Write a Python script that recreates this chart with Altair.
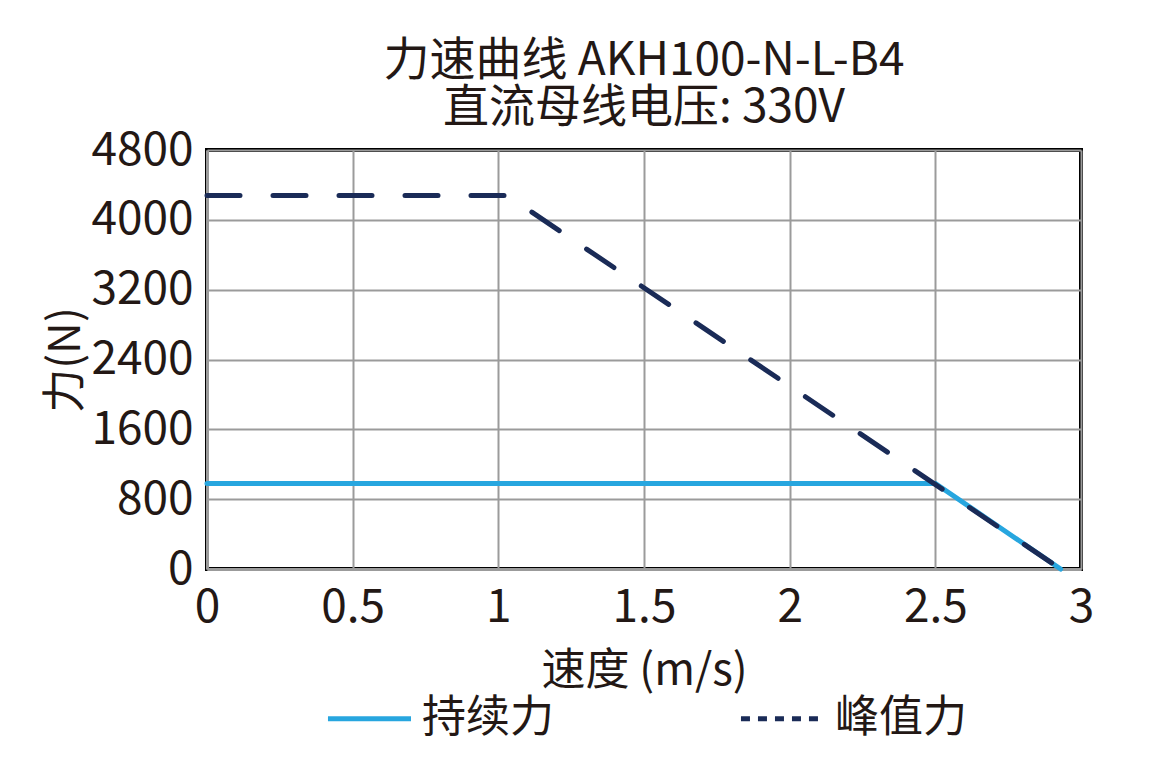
import altair as alt
import pandas as pd

# data
speed_cont = [0, 2.5, 2.93]
force_cont = [980, 980, 0]
speed_peak = [0, 1.03, 2.93]
force_peak = [4280, 4280, 0]
series_names = ["持续力", "峰值力"]
series_colors = ["#27A6DF", "#1A2B57"]
x_ticks = [0, 0.5, 1, 1.5, 2, 2.5, 3]
y_ticks = [0, 800, 1600, 2400, 3200, 4000, 4800]

FONT = "Noto Sans CJK SC"
TXT = "#231815"

df_cont = pd.DataFrame({"speed": speed_cont, "force": force_cont, "series": series_names[0]})
df_peak = pd.DataFrame({"speed": speed_peak, "force": force_peak, "series": series_names[1]})
df_all = pd.concat([df_cont, df_peak], ignore_index=True)

x_enc = alt.X("speed:Q",
              scale=alt.Scale(domain=[0, 3], nice=False),
              axis=alt.Axis(values=x_ticks, format="~g", title="速度 (m/s)",
                            titlePadding=19, labelPadding=16))
y_enc = alt.Y("force:Q",
              scale=alt.Scale(domain=[0, 4800], nice=False),
              axis=alt.Axis(values=y_ticks, format="d", title="力(N)",
                            titlePadding=2, labelPadding=14))

legend = alt.Legend(
    title=None, orient="none", direction="horizontal",
    legendX=118, legendY=524,
    symbolType="stroke", symbolSize=6900, symbolStrokeWidth=5, symbolOpacity=1,
    labelFont=FONT, labelFontSize=44, labelColor=TXT,
    labelOffset=8, columnPadding=176)

color_enc = alt.Color("series:N",
                      scale=alt.Scale(domain=series_names, range=series_colors),
                      legend=legend)
dash_enc = alt.StrokeDash("series:N",
                          scale=alt.Scale(domain=series_names, range=[[1, 0], [9, 8]]),
                          legend=legend)

line_cont = alt.Chart(df_cont).mark_line(strokeWidth=5, strokeCap="round").encode(
    x=x_enc, y=y_enc, color=color_enc)
line_peak = alt.Chart(df_peak).mark_line(strokeWidth=5, strokeCap="round",
                                         strokeDash=[33, 33]).encode(
    x=x_enc, y=y_enc, color=color_enc)
legend_layer = alt.Chart(df_all).mark_line(strokeWidth=5, opacity=0).encode(
    x=x_enc, y=y_enc, color=color_enc, strokeDash=dash_enc)

chart = alt.layer(line_cont, line_peak, legend_layer).properties(
    width=874, height=419,
    title=alt.TitleParams(["力速曲线 AKH100-N-L-B4", "直流母线电压: 330V"],
                          font=FONT, fontSize=46, lineHeight=47, fontWeight="normal",
                          color=TXT, anchor="middle", offset=-5),
    autosize=alt.AutoSizeParams(type="none"),
    padding={"left": 199, "top": 142, "right": 69, "bottom": 180},
).configure_view(
    stroke="#000000", strokeWidth=4
).configure_axis(
    labelFont=FONT, labelFontSize=46, labelColor=TXT, labelFlush=False,
    titleFont=FONT, titleFontSize=44, titleColor=TXT, titleFontWeight="normal",
    gridColor="#9B9B9B", gridWidth=2, gridOpacity=1,
    domainColor="#9B9B9B", domainWidth=3,
    ticks=False,
)

chart.save("out.html", embed_options={"renderer": "svg", "actions": False})
